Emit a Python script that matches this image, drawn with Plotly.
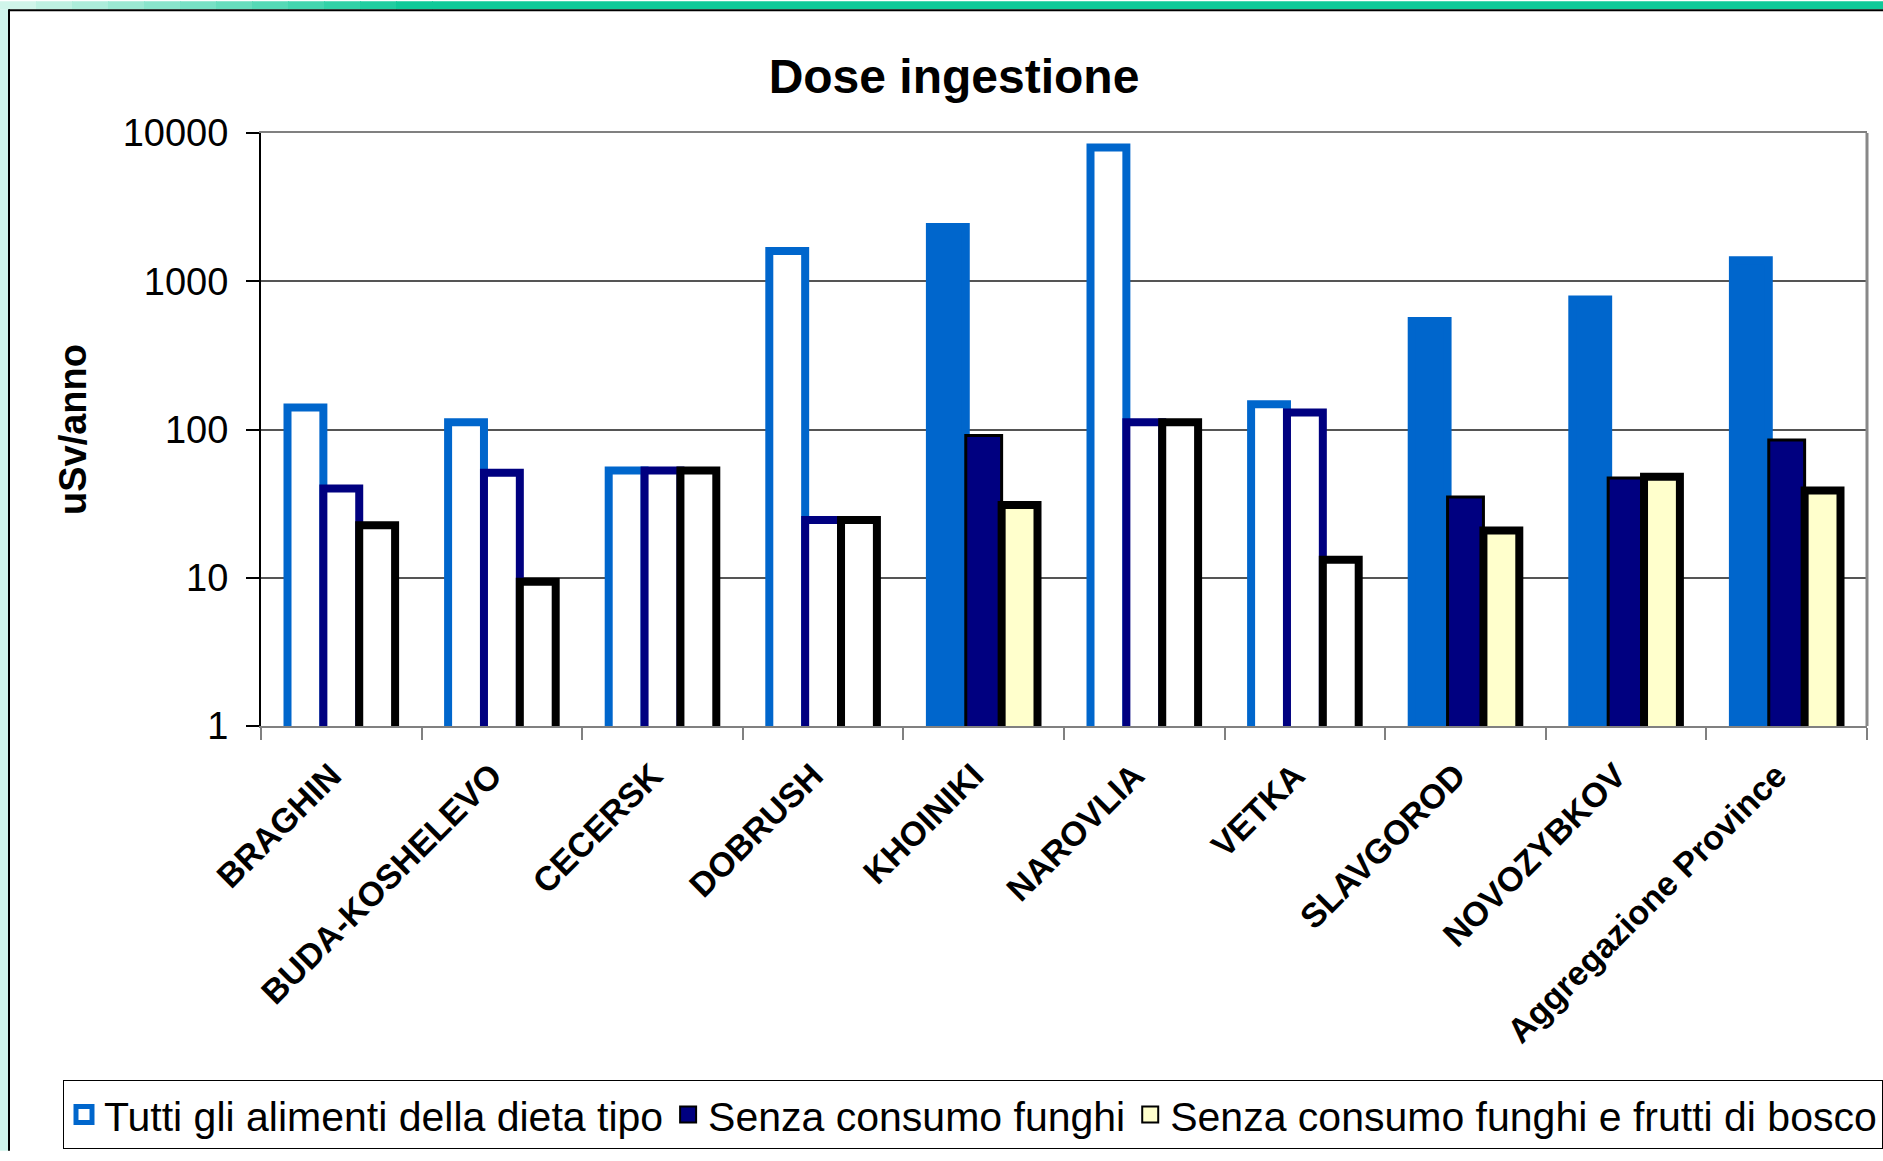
import plotly.graph_objects as go

title = "Dose ingestione"
y_title = "uSv/anno"
places = ["BRAGHIN", "BUDA-KOSHELEVO", "CECERSK", "DOBRUSH", "KHOINIKI",
          "NAROVLIA", "VETKA", "SLAVGOROD", "NOVOZYBKOV", "Aggregazione Province"]
series_names = ["Tutti gli alimenti della dieta tipo",
                "Senza consumo funghi",
                "Senza consumo funghi e frutti di bosco"]
tutti = [141, 112, 53, 1600, 2320, 7990, 148, 540, 752, 1384]
senza_funghi = [40, 51, 53, 24.5, 91, 112, 130, 35, 47, 85]
senza_funghi_bosco = [22.6, 9.4, 53, 24.5, 31, 112, 13.2, 20.8, 48, 38.7]
y_ticks = [1, 10, 100, 1000, 10000]

# groups that have solid fills in the original, the others are outlines only
filled = ["KHOINIKI", "SLAVGOROD", "NOVOZYBKOV", "Aggregazione Province"]

BLUE = "#0066CC"
NAVY = "#000080"
YELLOW = "#FFFFCC"
FONT = "Liberation Sans, Arial, sans-serif"

# (outline colour when empty, fill when solid, line when solid, line width when solid)
styles = [
    (BLUE, BLUE, BLUE, 8),
    (NAVY, NAVY, "black", 3),
    ("black", YELLOW, "black", 8),
]
legend_marks = [
    dict(color="white", line=dict(color=BLUE, width=5)),
    dict(color=NAVY, line=dict(color="black", width=2)),
    dict(color=YELLOW, line=dict(color="black", width=2)),
]

fig = go.Figure()
for name, vals, st in zip(series_names, [tutti, senza_funghi, senza_funghi_bosco], styles):
    solid = [p in filled for p in places]
    fig.add_trace(go.Bar(
        x=places, y=vals, name=name, showlegend=False,
        marker=dict(
            color=[st[1] if s else "white" for s in solid],
            line=dict(color=[st[2] if s else st[0] for s in solid],
                      width=[st[3] if s else 8 for s in solid]),
        ),
    ))

for name, mk in zip(series_names, legend_marks):
    fig.add_trace(go.Scatter(x=[None], y=[None], mode="markers", name=name,
                             marker=dict(symbol="square", size=22, **mk)))

# pixel helpers for the decoration around the chart
ML, MR, MT, MB = 261, 16, 133, 429
W, H = 1883, 1161
PW, PH = W - ML - MR, H - MT - MB


def px(x):
    return (x - ML) / PW


def py(y):
    return (H - MB - y) / PH


shapes = []
# top gradient strip
n = 12
for i in range(n):
    t = i / (n - 1)
    r = int(0xd0 + (0x10 - 0xd0) * t)
    g = int(0xf5 + (0xc9 - 0xf5) * t)
    b = int(0xea + (0x99 - 0xea) * t)
    shapes.append(dict(type="rect", xref="paper", yref="paper",
                       x0=px(i * 36), x1=px((i + 1) * 36 + 1), y0=py(8), y1=py(0),
                       fillcolor=f"rgb({r},{g},{b})", line=dict(width=0), layer="below"))
shapes.append(dict(type="rect", xref="paper", yref="paper",
                   x0=px(n * 36), x1=px(W), y0=py(8), y1=py(0),
                   fillcolor="#10c999", line=dict(width=0), layer="below"))
# left mint strip
shapes.append(dict(type="rect", xref="paper", yref="paper",
                   x0=px(0), x1=px(9), y0=py(H), y1=py(8),
                   fillcolor="#cff5ec", line=dict(width=0), layer="below"))
# chart frame
shapes.append(dict(type="line", xref="paper", yref="paper",
                   x0=px(9), x1=px(9), y0=py(H), y1=py(8),
                   line=dict(color="black", width=2)))
shapes.append(dict(type="line", xref="paper", yref="paper",
                   x0=px(9), x1=px(W), y0=py(9), y1=py(9),
                   line=dict(color="black", width=2)))
# right border of plot area
shapes.append(dict(type="line", xref="paper", yref="paper",
                   x0=1, x1=1, y0=0, y1=1, line=dict(color="#888888", width=3)))

fig.update_layout(
    width=W, height=H,
    margin=dict(l=ML, r=MR, t=MT, b=MB),
    paper_bgcolor="white", plot_bgcolor="white",
    font=dict(family=FONT, color="black"),
    title=dict(text=title, x=954 / W, xanchor="center", y=1 - 76 / H, yanchor="middle",
               xref="container", yref="container",
               font=dict(size=48, weight="bold", family=FONT)),
    barmode="group", bargap=0.33, bargroupgap=0,
    shapes=shapes,
    legend=dict(orientation="h", x=px(66), xanchor="left", y=py(1090), yanchor="top",
                font=dict(size=41, family=FONT), bordercolor="black", borderwidth=1,
                bgcolor="white"),
)
fig.update_xaxes(
    type="category", tickangle=-45, tickson="boundaries",
    ticks="outside", ticklen=12, tickcolor="#808080", tickwidth=2,
    showline=True, linecolor="#808080", linewidth=2, mirror=True,
    showgrid=False, tickfont=dict(size=34, weight="bold", family=FONT),
    ticklabelstandoff=14, ticklabelshift=-10,
)
fig.update_yaxes(
    type="log", range=[0, 4], tickvals=y_ticks, ticktext=[str(v) for v in y_ticks],
    ticks="outside", ticklen=13, tickcolor="black", tickwidth=2,
    showline=True, linecolor="black", linewidth=2,
    showgrid=True, gridcolor="#555555", gridwidth=1.5,
    tickfont=dict(size=38, family=FONT), ticklabelstandoff=10,
    title=dict(text=y_title, standoff=24, font=dict(size=38, weight="bold", family=FONT)),
)

fig.write_html("out.html", config={"displayModeBar": False},
               post_script="document.body.style.margin='0';")
